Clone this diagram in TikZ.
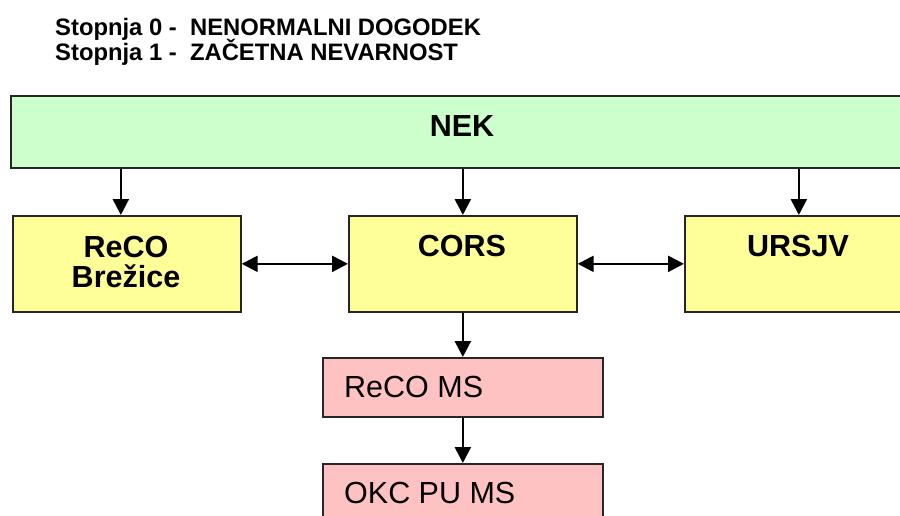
\documentclass[tikz,border=0pt]{standalone}
\usepackage{fontspec}
\setmainfont{Liberation Sans}
\usetikzlibrary{arrows.meta}
\definecolor{nekgreen}{HTML}{CCFFCC}
\definecolor{boxyellow}{HTML}{FFFF99}
\definecolor{boxpink}{HTML}{FFC2C2}
\definecolor{edgegray}{HTML}{262626}
\begin{document}
\begin{tikzpicture}[x=1pt,y=-1pt,
  box/.style={draw=edgegray,line width=1.7pt,inner sep=0pt,anchor=north west},
  conn/.style={line width=2.4pt,-{Triangle[length=16pt,width=16pt]}},
  conntwo/.style={line width=2.4pt,{Triangle[length=16pt,width=16pt]}-{Triangle[length=16pt,width=16pt]}},
  bigtxt/.style={font=\fontsize{30.5}{30.5}\selectfont\bfseries,inner sep=0pt,anchor=base},
  plaintxt/.style={font=\fontsize{30.5}{30.5}\selectfont,inner sep=0pt,anchor=base west},
  titletxt/.style={font=\fontsize{23.8}{23.8}\selectfont\bfseries,inner sep=0pt,anchor=base west}]
\useasboundingbox (0,0) rectangle (900,516);
\clip (0,0) rectangle (900,516);

\node[titletxt] (t1) at (55,35.5) {Stopnja 0 -\ \ NENORMALNI DOGODEK};
\node[titletxt] (t2) at (55,61) {Stopnja 1 -\ \ ZAČETNA NEVARNOST};

\node[box,fill=nekgreen,minimum width=902pt,minimum height=72pt] (nek) at (10,95) {};
\node[box,fill=boxyellow,minimum width=228pt,minimum height=96pt] (reco) at (12,215) {};
\node[box,fill=boxyellow,minimum width=228pt,minimum height=96pt] (cors) at (348,215) {};
\node[box,fill=boxyellow,minimum width=228pt,minimum height=96pt] (ursjv) at (684,215) {};
\node[box,fill=boxpink,minimum width=280pt,minimum height=59pt] (recoms) at (322,357) {};
\node[box,fill=boxpink,minimum width=280pt,minimum height=60pt] (okc) at (322,463) {};

\node[bigtxt] (nektxt) at (462,137) {NEK};
\node[bigtxt] (recotxt) at (126,257) {ReCO};
\node[bigtxt] (brezice) at (126,287) {Brežice};
\node[bigtxt] (corstxt) at (462,256) {CORS};
\node[bigtxt] (ursjvtxt) at (798,256) {URSJV};
\node[plaintxt] (recomstxt) at (344,397) {ReCO MS};
\node[plaintxt] (okctxt) at (344,503) {OKC PU MS};

\draw[conn] ([xshift=-6pt]reco.north |- nek.south) -- ([xshift=-6pt]reco.north);
\draw[conn] (cors.north |- nek.south) -- (cors.north);
\draw[conn] (ursjv.north |- nek.south) -- (ursjv.north);
\draw[conntwo] (reco.east) -- (cors.west);
\draw[conntwo] (cors.east) -- (ursjv.west);
\draw[conn] (cors.south) -- (recoms.north);
\draw[conn] (recoms.south) -- (okc.north);
\end{tikzpicture}
\end{document}
